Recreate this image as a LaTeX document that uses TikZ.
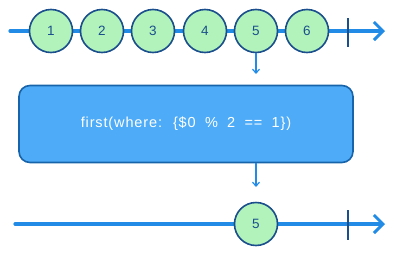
\documentclass[tikz,border=0pt]{standalone}
\usepackage{fontspec}
\setmainfont{Liberation Sans}
\newfontfamily\boxfont[LetterSpace=6,WordSpace={1.9}]{Liberation Sans}
\usetikzlibrary{arrows.meta}
\definecolor{lineblue}{HTML}{228BE6}
\definecolor{boxfill}{HTML}{4DABF7}
\definecolor{navy}{HTML}{1A4E8C}
\definecolor{boxedge}{HTML}{1864AB}
\definecolor{green}{HTML}{B2F2BB}
\tikzset{
  timeline/.style={draw=lineblue, line width=3.2pt, line cap=round, -{Straight Barb[length=9pt,width=18pt,line width=3pt]}},
  marble/.style={circle, draw=navy, line width=1.6pt, fill=green, minimum size=43pt, inner sep=0pt, font=\fontsize{13.5}{14}\selectfont, text=navy},
  endbar/.style={draw=navy, line width=1.5pt},
  flow/.style={draw=lineblue, line width=1.4pt, -{Straight Barb[length=4pt,width=7pt,line width=1.2pt]}},
  opbox/.style={draw=boxedge, line width=1.6pt, fill=boxfill, rounded corners=11pt, minimum width=334pt, minimum height=77pt, text=white, font=\boxfont\fontsize{14.5}{15}\selectfont},
}
\begin{document}
\begin{tikzpicture}[x=1pt,y=-1pt]
\useasboundingbox (0,0) rectangle (394,255);
% top timeline
\coordinate (ts) at (10,31);
\coordinate (te) at (385,31);
\draw[timeline] (ts) -- (te);
\coordinate (tb1) at (348,18);
\coordinate (tb2) at (348,47);
\draw[endbar] (tb1) -- (tb2);
\foreach \i/\x in {1/51,2/102,3/153,4/205,5/256,6/307}{
  \node[marble] (m\i) at (\x,31) {\i};
}
% operator box
\node[opbox] (op) at (186,124) {first(where: \{\$0 \% 2 == 1\})};
\coordinate (a1) at (256,74);
\draw[flow] (m5.south) -- (a1);
\coordinate (a2) at (256,187);
\draw[flow] (op.south -| a2) -- (a2);
% bottom timeline
\coordinate (bs) at (15,224);
\coordinate (be) at (385,224);
\draw[timeline] (bs) -- (be);
\coordinate (bb1) at (348,210);
\coordinate (bb2) at (348,240);
\draw[endbar] (bb1) -- (bb2);
\node[marble] (r5) at (256,224) {5};
\end{tikzpicture}
\end{document}
